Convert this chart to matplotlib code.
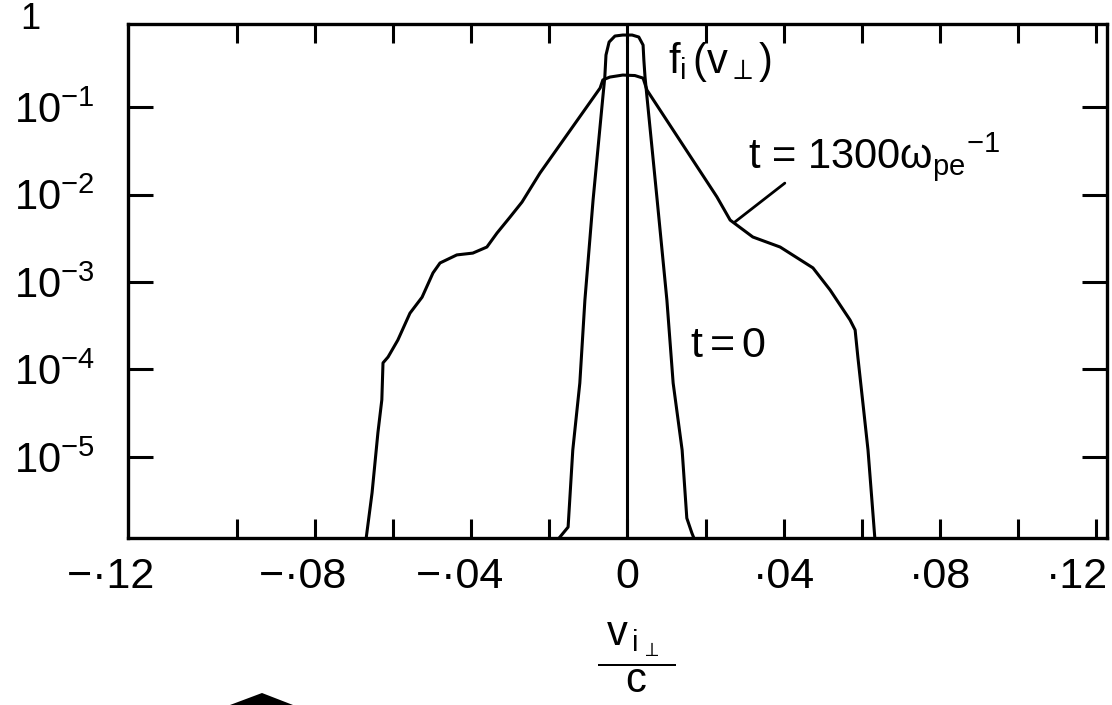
import matplotlib.pyplot as plt
from matplotlib.patches import Polygon
from matplotlib.ticker import FixedLocator, FuncFormatter, NullLocator
from matplotlib.transforms import ScaledTranslation

plt.rcParams['font.family'] = ['Liberation Sans', 'DejaVu Sans']
plt.rcParams['mathtext.fontset'] = 'custom'
plt.rcParams['mathtext.rm'] = 'Liberation Sans'
plt.rcParams['mathtext.it'] = 'Liberation Sans'
plt.rcParams['mathtext.bf'] = 'Liberation Sans:bold'
plt.rcParams['mathtext.sf'] = 'Liberation Sans'
plt.rcParams['mathtext.fallback'] = 'stixsans'

# f_i(v_perp) at t = 1300 / omega_pe
v_late = [-0.0670, -0.0654, -0.0639, -0.0629, -0.0626, -0.0613, -0.0588, -0.0557,
          -0.0526, -0.0498, -0.0480, -0.0437, -0.0396, -0.0360, -0.0334, -0.0301,
          -0.0270, -0.0224, -0.0070, -0.0063, -0.0045, -0.0012, 0.0019, 0.0040,
          0.0050, 0.0229, 0.0263, 0.0321, 0.0391, 0.0475, 0.0519, 0.0570,
          0.0583, 0.0590, 0.0603, 0.0616, 0.0626, 0.0634]
f_late = [1.1e-6, 3.9e-6, 1.9e-5, 4.5e-5, 1.19e-4, 1.39e-4, 2.17e-4, 4.4e-4,
          6.7e-4, 1.27e-3, 1.65e-3, 2.04e-3, 2.14e-3, 2.51e-3, 3.63e-3, 5.5e-3,
          8.2e-3, 1.76e-2, 0.165, 0.204, 0.220, 0.232, 0.229, 0.214,
          0.156, 9.4e-3, 5.1e-3, 3.27e-3, 2.51e-3, 1.45e-3, 8.1e-4, 3.68e-4,
          2.83e-4, 1.39e-4, 4.1e-5, 1.2e-5, 3.2e-6, 1.1e-6]

# initial distribution, t = 0
v_init = [-0.0181, -0.0152, -0.0140, -0.0122, -0.0109, -0.0088, -0.0063, -0.0058,
          -0.0055, -0.0047, -0.0032, -0.0012, 0.0012, 0.0029, 0.0040, 0.0042,
          0.0045, 0.0050, 0.0076, 0.0101, 0.0117, 0.0140, 0.0152, 0.0165, 0.0173]
f_init = [1.1e-6, 1.58e-6, 1.2e-5, 7.0e-5, 6.2e-4, 8.7e-3, 0.130, 0.220,
          0.393, 0.553, 0.648, 0.665, 0.665, 0.631, 0.511, 0.344,
          0.220, 0.130, 8.7e-3, 6.2e-4, 7.0e-5, 1.2e-5, 2.0e-6, 1.35e-6, 1.1e-6]

x_labelled = [-0.12, -0.08, -0.04, 0.0, 0.04, 0.08, 0.12]
x_marks = [-0.10, -0.08, -0.06, -0.04, -0.02, 0.0, 0.02, 0.04, 0.06, 0.08, 0.10, 0.12]
y_decades = [1e-5, 1e-4, 1e-3, 1e-2, 1e-1]
y_labels = [r'$10^{-5}$', r'$10^{-4}$', r'$10^{-3}$', r'$10^{-2}$', r'$10^{-1}$']


def vel_label(v, pos):
    if abs(v) < 1e-9:
        return '0'
    s = f'{abs(v):.2f}'.lstrip('0').replace('.', '\u00b7')
    # trailing figure space keeps the digits centred under the tick
    return '\u2212' + s + '\u2007' if v < 0 else s


fig = plt.figure(figsize=(11.12, 7.05), dpi=100)
ax = fig.add_axes([128 / 1112, 167 / 705, 979 / 1112, 514 / 705])

ax.plot(v_late, f_late, color='black', lw=2.2, solid_joinstyle='round')
ax.plot(v_init, f_init, color='black', lw=2.2, solid_joinstyle='round')
ax.vlines(0.0, 1e-7, max(f_init), color='black', lw=2.2)

ax.set_yscale('log')
ax.set_xlim(-0.1279, 0.1228)
ax.set_ylim(10 ** -5.926, 10 ** -0.051)

for sp in ax.spines.values():
    sp.set_linewidth(2.4)

ax.xaxis.remove_overlapping_locs = False
ax.xaxis.set_major_locator(FixedLocator(x_labelled))
ax.xaxis.set_major_formatter(FuncFormatter(vel_label))
ax.xaxis.set_minor_locator(FixedLocator(x_marks))
ax.tick_params(axis='x', which='major', length=0, pad=14, labelsize=31)
ax.tick_params(axis='x', which='minor', direction='in', length=14, width=2.2,
               top=True, bottom=True)

# the outermost labels sit tucked in against the frame corners
ticks = ax.xaxis.get_major_ticks()
first, last = ticks[0].label1, ticks[-1].label1
first.set_transform(first.get_transform() + ScaledTranslation(-0.36, 0, fig.dpi_scale_trans))
last.set_horizontalalignment('right')
last.set_transform(last.get_transform() + ScaledTranslation(0.12, 0, fig.dpi_scale_trans))

ax.set_yticks(y_decades)
ax.set_yticklabels(y_labels)
ax.yaxis.set_minor_locator(NullLocator())
ax.tick_params(axis='y', direction='in', length=18, width=2.2, left=True,
               right=True, pad=24, labelsize=30)
ax.text(-0.10, 1.0, '1', transform=ax.get_yaxis_transform(), ha='center',
        va='center', fontsize=26)

# curve labels
ax.text(0.0104, 0.245, r'$f_i\,(v_\perp)$', fontsize=30)
ax.text(0.0309, 0.020, 't = 1300$\\omega_{pe}{}^{-1}$', fontsize=30)
ax.text(0.0160, 1.39e-4, r'$t = 0$', fontsize=31)
ax.annotate('', xy=(0.0275, 4.85e-3), xytext=(0.0403, 0.0135),
            arrowprops=dict(arrowstyle='-', lw=2.0, color='black',
                            shrinkA=0, shrinkB=0))

ax.set_xlabel(r'$\dfrac{\;v_{\,i_{\,\perp}}\;}{c}$', fontsize=30)
ax.xaxis.set_label_coords(0.519, -0.16)

# dark mark at the foot of the page
fig.patches.append(Polygon([[230 / 1112, 0], [262 / 1112, 12 / 705], [293 / 1112, 0]],
                           closed=True, transform=fig.transFigure,
                           facecolor='black', edgecolor='none'))

fig.savefig('out.png', dpi=100)
